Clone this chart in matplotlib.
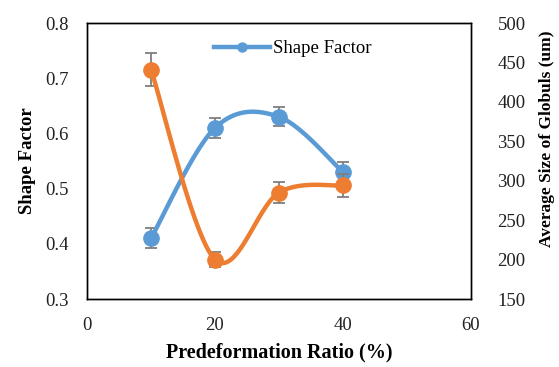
import numpy as np
import matplotlib
matplotlib.use("Agg")
import matplotlib.pyplot as plt

plt.rcParams['font.family'] = ['Liberation Serif', 'DejaVu Serif']

# Data
ratio = [10, 20, 30, 40]
shape_factor = [0.41, 0.61, 0.63, 0.53]
shape_err = [0.018, 0.018, 0.017, 0.018]
globule_size = [441, 200, 285, 294]
size_err = [21, 10, 13, 15]

BLUE = '#5B9BD5'
ORANGE = '#ED7D31'
GREY = '#7F7F7F'


def smooth(x, y, n=40):
    # Excel-style smoothed line (Catmull-Rom through the points)
    x = np.asarray(x, float)
    y = np.asarray(y, float)
    px = np.concatenate([[x[0]], x, [x[-1]]])
    py = np.concatenate([[y[0]], y, [y[-1]]])
    xs, ys = [], []
    t = np.linspace(0, 1, n)
    for i in range(1, len(px) - 2):
        p0, p1, p2, p3 = [np.array([px[j], py[j]]) for j in range(i - 1, i + 3)]
        c1 = p1 + (p2 - p0) / 6
        c2 = p2 - (p3 - p1) / 6
        b = ((1 - t) ** 3)[:, None] * p1 + (3 * (1 - t) ** 2 * t)[:, None] * c1 \
            + (3 * (1 - t) * t ** 2)[:, None] * c2 + (t ** 3)[:, None] * p2
        xs.extend(b[:, 0])
        ys.extend(b[:, 1])
    return xs, ys


fig = plt.figure(figsize=(5.59, 3.67), dpi=100)
ax = fig.add_axes([87 / 559, 1 - 299 / 367, (471 - 87) / 559, (299 - 23) / 367])
ax2 = ax.twinx()

# Shape factor (left axis)
sx, sy = smooth(ratio, shape_factor)
ax.plot(sx, sy, color=BLUE, linewidth=3.2, solid_capstyle='round', zorder=3)
ax.errorbar(ratio, shape_factor, yerr=shape_err, fmt='none', ecolor=GREY,
            elinewidth=1.3, capsize=4, capthick=1.3, zorder=2)
ax.plot(ratio, shape_factor, 'o', color=BLUE, markersize=11, zorder=4)
handle, = ax.plot([], [], '-o', color=BLUE, linewidth=3.2, markersize=6.5)

# Globule size (right axis)
gx, gy = smooth(ratio, globule_size)
ax2.plot(gx, gy, color=ORANGE, linewidth=3.2, solid_capstyle='round', zorder=3)
ax2.errorbar(ratio, globule_size, yerr=size_err, fmt='none', ecolor=GREY,
             elinewidth=1.3, capsize=4, capthick=1.3, zorder=2)
ax2.plot(ratio, globule_size, 'o', color=ORANGE, markersize=11, zorder=4)

ax.set_xlim(0, 60)
ax.set_xticks([0, 20, 40, 60])
ax.set_ylim(0.3, 0.8)
ax.set_yticks(np.arange(0.3, 0.81, 0.1))
ax.set_yticklabels(['0.3', '0.4', '0.5', '0.6', '0.7', '0.8'])
ax2.set_ylim(150, 500)
ax2.set_yticks(range(150, 501, 50))

for a in (ax, ax2):
    a.tick_params(length=0, labelsize=13.5, colors='#222222')
    for s in a.spines.values():
        s.set_color('black')
        s.set_linewidth(1)
ax.tick_params(axis='y', pad=13)
ax.tick_params(axis='x', pad=13)
ax2.tick_params(axis='y', pad=19)

ax.set_xlabel('Predeformation Ratio (%)', fontsize=14.5, fontweight='bold', labelpad=6)
ax.set_ylabel('Shape Factor', fontsize=13.5, fontweight='bold', labelpad=7)
ax2.set_ylabel('Average Size of Globuls (um)', fontsize=12.5, fontweight='bold')
ax2.yaxis.set_label_coords(1.177, 0.58)

ax.legend([handle], ['Shape Factor'], loc='upper center', bbox_to_anchor=(0.536, 0.985),
          frameon=False, fontsize=13.5, handlelength=3.0, handletextpad=0.15,
          borderaxespad=0.3)

fig.savefig('out.png', dpi=100)
